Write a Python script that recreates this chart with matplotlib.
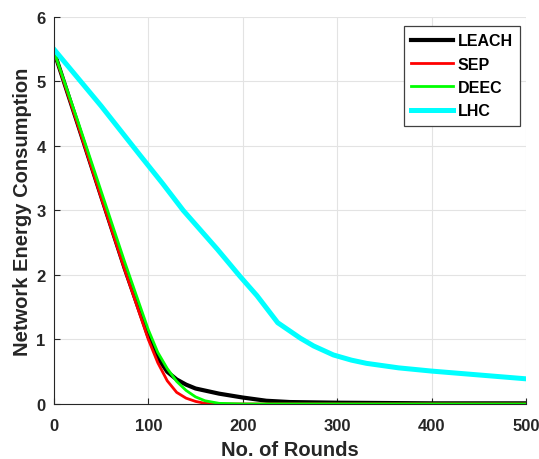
import numpy as np
import matplotlib.pyplot as plt

plt.rcParams['font.family'] = ['Liberation Sans', 'DejaVu Sans']
plt.rcParams['font.weight'] = 'bold'

"""""""""""""""""""""""""""""""""""""""""""""""""""""""""
: Data
"""""""""""""""""""""""""""""""""""""""""""""""""""""""""
rounds_leach = [0, 25, 50, 75, 100, 110, 120, 130, 140, 150, 175, 200, 225, 250, 300, 400, 500]
leach = [5.47, 4.35, 3.22, 2.10, 1.05, 0.72, 0.50, 0.38, 0.30, 0.24, 0.16, 0.10, 0.05, 0.03, 0.02, 0.01, 0.01]

rounds_sep = [0, 25, 50, 75, 100, 110, 120, 130, 140, 150, 160, 175, 200, 300, 500]
sep = [5.47, 4.34, 3.20, 2.08, 1.00, 0.64, 0.36, 0.18, 0.09, 0.04, 0.01, 0.0, 0.0, 0.0, 0.0]

rounds_deec = [0, 25, 50, 75, 100, 110, 120, 130, 140, 150, 160, 175, 200, 300, 500]
deec = [5.47, 4.40, 3.30, 2.20, 1.15, 0.80, 0.55, 0.35, 0.21, 0.11, 0.05, 0.01, 0.0, 0.0, 0.0]

rounds_lhc = [0, 50, 91, 115, 137, 155, 173, 197, 215, 226, 237, 250, 261, 275, 296, 315, 331, 365, 400, 450, 500]
lhc = [5.50, 4.62, 3.86, 3.42, 3.00, 2.70, 2.40, 1.98, 1.68, 1.47, 1.26, 1.13, 1.02, 0.90, 0.76, 0.68, 0.63, 0.56, 0.51, 0.45, 0.39]

"""""""""""""""""""""""""""""""""""""""""""""""""""""""""
: Plotting
"""""""""""""""""""""""""""""""""""""""""""""""""""""""""
fig = plt.figure(figsize=(5.39, 4.60), dpi=100)
ax = fig.add_axes([0.100, 0.1196, 0.876, 0.8414])

ax.plot(rounds_leach, leach, color='black', lw=3.0, label='LEACH')
ax.plot(rounds_sep, sep, color='red', lw=2.0, label='SEP')
ax.plot(rounds_deec, deec, color='#00ff00', lw=2.0, label='DEEC')
ax.plot(rounds_lhc, lhc, color='cyan', lw=3.6, label='LHC')

ax.set_xlim(0, 500)
ax.set_ylim(0, 6)
ax.set_xticks([0, 100, 200, 300, 400, 500])
ax.set_yticks([0, 1, 2, 3, 4, 5, 6])
ax.grid(True, color='#e3e3e3', lw=0.8)
ax.set_axisbelow(True)
ax.spines['top'].set_visible(False)
ax.spines['right'].set_visible(False)
for s in ['left', 'bottom']:
    ax.spines[s].set_color('#262626')
ax.tick_params(direction='in', length=4, colors='#262626', labelsize=12)
ax.tick_params(axis='x', pad=10)
ax.tick_params(axis='y', pad=6)

ax.set_xlabel('No. of Rounds', fontsize=14.5, fontweight='bold', color='#262626', labelpad=5)
ax.set_ylabel('Network Energy Consumption', fontsize=14.5, fontweight='bold', color='#262626', labelpad=3)

leg = ax.legend(loc='upper right', bbox_to_anchor=(0.987, 0.976), fontsize=11.5,
                fancybox=False, framealpha=1, edgecolor='#404040',
                handlelength=2.6, handletextpad=0.3, borderpad=0.45, labelspacing=0.52,
                borderaxespad=0)
leg.get_frame().set_linewidth(0.9)

plt.savefig('out.png', dpi=100)
plt.close()
